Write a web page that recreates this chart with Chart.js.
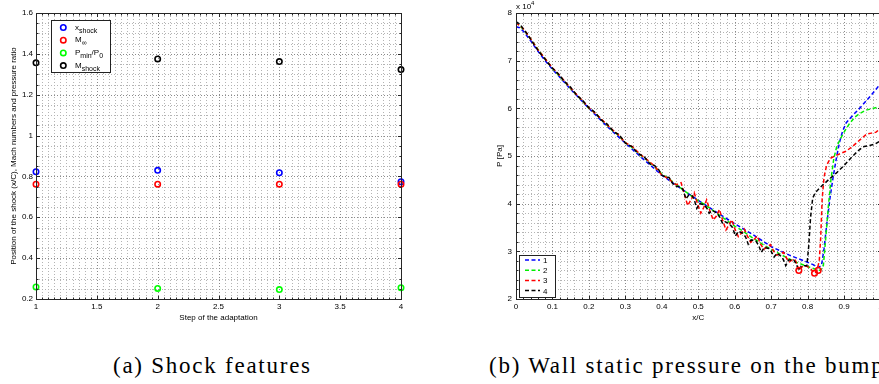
<!DOCTYPE html>
<html>
<head>
<meta charset="utf-8">
<title>Shock features and wall static pressure</title>
<script src="https://cdn.jsdelivr.net/npm/chart.js@4.4.1/dist/chart.umd.min.js"></script>
<style>
  html, body { margin: 0; padding: 0; background: #fff; width: 879px; height: 384px; overflow: hidden; position: relative; }
  #wa { position: absolute; left: 0; top: 0; width: 440px; height: 330px; }
  #wb { position: absolute; left: 440px; top: 0; width: 490px; height: 330px; }
  .cap { position: absolute; top: 354px; font-family: "Liberation Serif", "DejaVu Serif", serif; font-size: 23px;
         line-height: 23px; letter-spacing: 1.75px; white-space: nowrap; color: #000; }
</style>
</head>
<body>
<div id="wa"><canvas id="ca" width="440" height="330"></canvas></div>
<div id="wb"><canvas id="cb" width="490" height="330"></canvas></div>
<div class="cap" style="left:113px">(a) Shock features</div>
<div class="cap" style="left:489px">(b) Wall static pressure on the bump</div>

<script>
// ---------- (a) shock features for each adaptation step ----------
const steps     = [1, 2, 3, 4];
const xShock    = [0.823, 0.830, 0.818, 0.774];   // shock position x/C
const machInf   = [0.762, 0.762, 0.762, 0.762];   // free-stream Mach
const pRatio    = [0.259, 0.252, 0.246, 0.255];   // Pmin / P0
const machShock = [1.356, 1.375, 1.362, 1.323];   // Mach ahead of the shock

const stepTicks  = [1, 1.5, 2, 2.5, 3, 3.5, 4];
const ratioTicks = [0.2, 0.4, 0.6, 0.8, 1, 1.2, 1.4, 1.6];

// ---------- (b) wall static pressure along the bump, in units of 1e4 Pa ----------
const xcTicks = [0, 0.1, 0.2, 0.3, 0.4, 0.5, 0.6, 0.7, 0.8, 0.9, 1];
const pTicks  = [2, 3, 4, 5, 6, 7, 8];

const xc1 = [0, 0.01, 0.02, 0.04, 0.06, 0.08, 0.10, 0.15, 0.20, 0.25, 0.30, 0.35, 0.40, 0.45, 0.50,
             0.55, 0.60, 0.65, 0.70, 0.75, 0.80, 0.815, 0.828, 0.838, 0.845, 0.853, 0.862, 0.871,
             0.880, 0.888, 0.896, 0.906, 0.918, 0.930, 0.945, 0.960, 0.975, 0.990, 1.0];
const p1  = [7.71, 7.69, 7.62, 7.42, 7.20, 7.00, 6.82, 6.40, 6.00, 5.62, 5.27, 4.93, 4.60, 4.33, 4.07,
             3.82, 3.58, 3.35, 3.10, 2.92, 2.77, 2.72, 2.66, 2.70, 3.05, 3.60, 4.15, 4.60,
             5.00, 5.30, 5.52, 5.70, 5.80, 5.90, 6.02, 6.15, 6.28, 6.42, 6.52];

const xc2 = [0, 0.02, 0.04, 0.06, 0.08, 0.10, 0.12, 0.14, 0.16, 0.18, 0.20, 0.22, 0.24, 0.26, 0.28,
             0.30, 0.32, 0.34, 0.36, 0.38, 0.40, 0.42, 0.44, 0.46, 0.48, 0.50, 0.52, 0.54, 0.56,
             0.58, 0.60, 0.62, 0.64, 0.66, 0.68, 0.70, 0.72, 0.74, 0.76, 0.78, 0.80, 0.82, 0.835,
             0.843, 0.850, 0.857, 0.864, 0.872, 0.880, 0.890, 0.900, 0.915, 0.930, 0.945, 0.960,
             0.975, 0.990, 1.0];
const p2  = [7.81, 7.66, 7.46, 7.24, 7.04, 6.84, 6.67, 6.50, 6.33, 6.17, 6.00, 5.88, 5.72, 5.57, 5.44,
             5.28, 5.17, 5.03, 4.91, 4.78, 4.62, 4.52, 4.40, 4.28, 4.17, 4.06, 3.97, 3.86, 3.75,
             3.64, 3.53, 3.44, 3.33, 3.23, 3.13, 3.04, 2.96, 2.88, 2.80, 2.74, 2.68, 2.63, 2.60,
             2.68, 3.30, 3.95, 4.50, 4.95, 5.20, 5.36, 5.50, 5.68, 5.82, 5.90, 5.96,
             5.99, 6.02, 6.03];

const xc3 = [0, 0.02, 0.04, 0.06, 0.08, 0.10, 0.12, 0.14, 0.16, 0.18, 0.20, 0.22, 0.24, 0.26, 0.28,
             0.30, 0.32, 0.34, 0.36, 0.38, 0.40, 0.42, 0.43, 0.44, 0.453, 0.462, 0.471, 0.480, 0.489,
             0.498, 0.507, 0.515, 0.523, 0.532, 0.541, 0.550, 0.558, 0.567, 0.576, 0.584, 0.592,
             0.601, 0.610, 0.618, 0.626, 0.635, 0.644, 0.653, 0.662, 0.671, 0.680, 0.689, 0.698,
             0.707, 0.716, 0.725, 0.734, 0.742, 0.750, 0.758, 0.766, 0.772, 0.776, 0.782, 0.790,
             0.800, 0.810, 0.818, 0.825, 0.832, 0.836, 0.840, 0.845, 0.852, 0.862, 0.875, 0.890,
             0.905, 0.920, 0.935, 0.950, 0.962, 0.975, 0.988, 1.0];
const p3  = [7.80, 7.67, 7.46, 7.23, 7.04, 6.85, 6.69, 6.51, 6.34, 6.18, 6.01, 5.88, 5.73, 5.58, 5.45,
             5.28, 5.19, 5.04, 4.92, 4.79, 4.60, 4.52, 4.44, 4.40, 4.44, 4.20, 3.96, 4.08, 4.23,
             4.00, 3.80, 3.92, 4.08, 3.85, 3.66, 3.74, 3.88, 3.65, 3.45, 3.55, 3.66,
             3.46, 3.31, 3.38, 3.47, 3.32, 3.19, 3.25, 3.32, 3.15, 3.04, 3.10, 3.14,
             3.00, 2.92, 2.95, 2.98, 2.86, 2.78, 2.82, 2.82, 2.70, 2.60, 2.66, 2.70,
             2.68, 2.62, 2.54, 2.58, 2.80, 3.30, 4.10, 4.55, 4.80, 4.95, 5.00, 5.05,
             5.10, 5.18, 5.28, 5.38, 5.46, 5.48, 5.50, 5.58];

const xc4 = [0, 0.01, 0.02, 0.03, 0.04, 0.05, 0.06, 0.07, 0.08, 0.09, 0.10, 0.11, 0.12, 0.13, 0.14,
             0.15, 0.16, 0.17, 0.18, 0.19, 0.20, 0.21, 0.22, 0.23, 0.24, 0.25, 0.26, 0.27, 0.28,
             0.29, 0.30, 0.31, 0.32, 0.33, 0.34, 0.35, 0.36, 0.37, 0.38, 0.39, 0.40, 0.41, 0.42,
             0.43, 0.44, 0.45, 0.458, 0.466, 0.474, 0.484, 0.490, 0.496, 0.504, 0.516, 0.524, 0.530,
             0.538, 0.552, 0.560, 0.567, 0.574, 0.585, 0.594, 0.602, 0.610, 0.622, 0.630, 0.637,
             0.645, 0.658, 0.666, 0.673, 0.681, 0.694, 0.700, 0.708, 0.716, 0.730, 0.735, 0.740,
             0.748, 0.762, 0.770, 0.775, 0.782, 0.792, 0.798, 0.803, 0.808, 0.814, 0.822, 0.840,
             0.860, 0.880, 0.900, 0.920, 0.940, 0.955, 0.970, 0.985, 1.0];
const p4  = [7.82, 7.77, 7.67, 7.57, 7.45, 7.33, 7.22, 7.12, 7.03, 6.93, 6.84, 6.77, 6.69, 6.59, 6.51,
             6.44, 6.34, 6.25, 6.19, 6.10, 6.01, 5.96, 5.89, 5.78, 5.72, 5.67, 5.58, 5.50, 5.46,
             5.38, 5.27, 5.23, 5.19, 5.09, 5.03, 5.00, 4.91, 4.81, 4.80, 4.73, 4.60, 4.56, 4.55,
             4.42, 4.36, 4.36, 4.30, 4.10, 4.18, 4.16, 4.06, 3.90, 4.00, 3.98, 3.90, 3.80,
             3.86, 3.80, 3.70, 3.58, 3.62, 3.58, 3.50, 3.32, 3.42, 3.38, 3.30, 3.15,
             3.24, 3.22, 3.12, 2.98, 3.08, 3.06, 3.00, 2.88, 2.96, 2.88, 2.80, 2.70,
             2.82, 2.82, 2.72, 2.60, 2.68, 2.70, 2.70, 3.10, 3.70, 4.12, 4.24, 4.38,
             4.52, 4.65, 4.80, 4.97, 5.12, 5.20, 5.22, 5.25, 5.32];

// circle marks on series 3 near the shock foot
const xcMark = [0.776, 0.819, 0.829];
const pMark  = [2.60, 2.54, 2.60];

// ---------- shared styling ----------
const SANS = '"Liberation Sans", Arial, Helvetica, sans-serif';
Chart.defaults.font.family = SANS;
Chart.defaults.font.size = 8;
Chart.defaults.color = '#000';
Chart.defaults.animation = false;

function range(min, max, step) {
  const n = Math.round((max - min) / step), out = [];
  for (let i = 0; i <= n; i++) out.push(+(min + i * step).toFixed(6));
  return out;
}
const fmt = v => String(+Number(v).toFixed(3));
const useTicks = values => scale => { scale.ticks = values.map(v => ({ value: v })); };
const pairs = (xs, ys) => xs.map((x, i) => ({ x, y: ys[i] }));

// split "M_{shock}" style labels into plain / subscript / superscript runs
function runs(label) {
  const out = [], re = /_\{([^}]*)\}|\^\{([^}]*)\}|[^_^]+/g;
  let m;
  while ((m = re.exec(label))) {
    if (m[1] !== undefined) out.push([m[1], 'sub']);
    else if (m[2] !== undefined) out.push([m[2], 'sup']);
    else out.push([m[0], '']);
  }
  return out;
}
function drawRuns(ctx, label, x, y) {
  for (const [t, kind] of runs(label)) {
    if (kind === 'sub') { ctx.font = '7px ' + SANS; ctx.fillText(t, x, y + 3); }
    else if (kind === 'sup') { ctx.font = '6px ' + SANS; ctx.fillText(t, x, y - 3.5); }
    else { ctx.font = '8px ' + SANS; ctx.fillText(t, x, y); }
    x += ctx.measureText(t).width;
  }
}

// dotted major/minor grid, inward ticks on all four sides and a closed box
const matlabAxes = {
  id: 'matlabAxes',
  beforeDatasetsDraw(chart, args, o) {
    const { ctx, chartArea: a } = chart, xs = chart.scales.x, ys = chart.scales.y;
    ctx.save();
    ctx.lineWidth = 1;
    ctx.setLineDash([1, 2]);
    const v = (val, c) => { const p = Math.round(xs.getPixelForValue(val)) + 0.5;
      ctx.strokeStyle = c; ctx.beginPath(); ctx.moveTo(p, a.top); ctx.lineTo(p, a.bottom); ctx.stroke(); };
    const h = (val, c) => { const p = Math.round(ys.getPixelForValue(val)) + 0.5;
      ctx.strokeStyle = c; ctx.beginPath(); ctx.moveTo(a.left, p); ctx.lineTo(a.right, p); ctx.stroke(); };
    range(o.xMinor[0], o.xMinor[1], o.xMinor[2]).forEach(val => v(val, o.minorColor));
    range(o.yMinor[0], o.yMinor[1], o.yMinor[2]).forEach(val => h(val, o.minorColor));
    xs.ticks.forEach(t => v(t.value, o.majorColor));
    ys.ticks.forEach(t => h(t.value, o.majorColor));
    ctx.restore();
  },
  afterDatasetsDraw(chart, args, o) {
    const { ctx, chartArea: a } = chart, xs = chart.scales.x, ys = chart.scales.y;
    const L = Math.round(a.left) + 0.5, R = Math.round(a.right) + 0.5;
    const T = Math.round(a.top) + 0.5, B = Math.round(a.bottom) + 0.5;
    ctx.save();
    ctx.strokeStyle = o.boxColor;
    ctx.lineWidth = 1;
    ctx.beginPath();
    const xt = (val, len) => { const p = Math.round(xs.getPixelForValue(val)) + 0.5;
      ctx.moveTo(p, B); ctx.lineTo(p, B - len); ctx.moveTo(p, T); ctx.lineTo(p, T + len); };
    const yt = (val, len) => { const p = Math.round(ys.getPixelForValue(val)) + 0.5;
      ctx.moveTo(L, p); ctx.lineTo(L + len, p); ctx.moveTo(R, p); ctx.lineTo(R - len, p); };
    range(o.xMinor[0], o.xMinor[1], o.xMinor[2]).forEach(val => xt(val, 2));
    range(o.yMinor[0], o.yMinor[1], o.yMinor[2]).forEach(val => yt(val, 2));
    xs.ticks.forEach(t => xt(t.value, 3.5));
    ys.ticks.forEach(t => yt(t.value, 3.5));
    ctx.stroke();
    ctx.strokeRect(L, T, R - L, B - T);
    if (o.exponent) {
      ctx.fillStyle = '#000';
      ctx.textBaseline = 'alphabetic';
      drawRuns(ctx, o.exponent, Math.round(a.left), 8.5);
    }
    ctx.restore();
  }
};

// boxed legend with circle or dashed-line samples
const boxLegend = {
  id: 'boxLegend',
  afterDraw(chart, args, o) {
    const ctx = chart.ctx, b = o.box;
    ctx.save();
    ctx.fillStyle = '#fff';
    ctx.fillRect(b[0], b[1], b[2], b[3]);
    ctx.strokeStyle = '#222';
    ctx.lineWidth = 1;
    ctx.strokeRect(b[0] + 0.5, b[1] + 0.5, b[2], b[3]);
    chart.data.datasets.filter(d => d.inLegend).forEach((d, i) => {
      const y = o.firstRow + i * o.rowStep;
      ctx.strokeStyle = d.borderColor;
      if (o.kind === 'circle') {
        ctx.lineWidth = 1.6;
        ctx.setLineDash([]);
        ctx.beginPath(); ctx.arc(o.sampleX, y, 2.7, 0, Math.PI * 2); ctx.stroke();
      } else {
        ctx.lineWidth = 1.5;
        ctx.setLineDash(d.borderDash);
        ctx.beginPath(); ctx.moveTo(o.sampleX, y); ctx.lineTo(o.sampleX + o.sampleW, y); ctx.stroke();
      }
      ctx.setLineDash([]);
      ctx.fillStyle = '#000';
      ctx.textBaseline = 'alphabetic';
      drawRuns(ctx, d.label, o.textX, y + o.textDy);
    });
    ctx.restore();
  }
};

// ---------- chart (a) ----------
const seriesA = [
  { label: 'x_{shock}',   values: xShock,    color: '#0000ff' },
  { label: 'M_{\u221e}',  values: machInf,   color: '#ff0000' },
  { label: 'P_{min}/P_{0}', values: pRatio,  color: '#00ff00' },
  { label: 'M_{shock}',   values: machShock, color: '#000000' }
];

new Chart(document.getElementById('ca'), {
  type: 'scatter',
  data: {
    datasets: seriesA.map((s, i) => ({
      label: s.label, inLegend: true,
      data: pairs(steps, s.values),
      borderColor: s.color, backgroundColor: 'rgba(0,0,0,0)',
      pointRadius: 2.7, pointHoverRadius: 2.7, pointBorderWidth: 1.6,
      order: seriesA.length - i, clip: false
    }))
  },
  options: {
    responsive: false, events: [],
    layout: { padding: { left: 0, top: 13, right: 39, bottom: 0 } },
    plugins: {
      legend: { display: false }, tooltip: { enabled: false },
      matlabAxes: { xMinor: [1, 4, 0.05], yMinor: [0.2, 1.6, 0.05],
                    minorColor: '#b4b4b4', majorColor: '#8a8a8a', boxColor: '#262626' },
      boxLegend: { kind: 'circle', box: [51, 20, 59, 52], firstRow: 27.5, rowStep: 12.7,
                   sampleX: 63.3, textX: 75, textDy: 2 }
    },
    scales: {
      x: {
        type: 'linear', min: 1, max: 4,
        afterBuildTicks: useTicks(stepTicks),
        afterFit: s => { s.height = 31; },
        grid: { display: false, drawTicks: false }, border: { display: false },
        ticks: { autoSkip: false, maxRotation: 0, padding: 3, callback: fmt },
        title: { display: true, text: 'Step of the adaptation', padding: { top: 0, bottom: 7 } }
      },
      y: {
        type: 'linear', min: 0.2, max: 1.6,
        afterBuildTicks: useTicks(ratioTicks),
        afterFit: s => { s.width = 36; },
        grid: { display: false, drawTicks: false }, border: { display: false },
        ticks: { autoSkip: false, padding: 3, callback: fmt },
        title: { display: true, text: 'Position of the shock (x/C), Mach numbers and pressure ratio',
                 padding: { top: 9, bottom: 0 } }
      }
    }
  },
  plugins: [matlabAxes, boxLegend]
});

// ---------- chart (b) ----------
const seriesB = [
  { label: '1', xs: xc1, ps: p1, color: '#0000ff' },
  { label: '2', xs: xc2, ps: p2, color: '#00ee00' },
  { label: '3', xs: xc3, ps: p3, color: '#ff0000' },
  { label: '4', xs: xc4, ps: p4, color: '#000000' }
];
const dsB = seriesB.map((s, i) => ({
  label: s.label, inLegend: true,
  data: pairs(s.xs, s.ps),
  showLine: true, borderColor: s.color, borderWidth: 1.5, borderDash: [4, 2.5],
  pointRadius: 0, pointHoverRadius: 0, tension: 0,
  order: seriesB.length - i + 1
}));
dsB.push({
  label: 'shock', inLegend: false,
  data: pairs(xcMark, pMark),
  borderColor: '#ff0000', backgroundColor: 'rgba(0,0,0,0)',
  pointRadius: 2.8, pointHoverRadius: 2.8, pointBorderWidth: 1.5, order: 0
});

new Chart(document.getElementById('cb'), {
  type: 'scatter',
  data: { datasets: dsB },
  options: {
    responsive: false, events: [],
    layout: { padding: { left: 50, top: 13, right: 49.5, bottom: 0 } },
    plugins: {
      legend: { display: false }, tooltip: { enabled: false },
      matlabAxes: { xMinor: [0, 1, 0.02], yMinor: [2, 8, 0.2],
                    minorColor: '#b4b4b4', majorColor: '#8a8a8a', boxColor: '#262626',
                    exponent: 'x 10^{4}' },
      boxLegend: { kind: 'line', box: [79, 255, 36, 42], firstRow: 260, rowStep: 10.2,
                   sampleX: 85, sampleW: 15, textX: 103, textDy: 3 }
    },
    scales: {
      x: {
        type: 'linear', min: 0, max: 1,
        afterBuildTicks: useTicks(xcTicks),
        afterFit: s => { s.height = 31; },
        grid: { display: false, drawTicks: false }, border: { display: false },
        ticks: { autoSkip: false, maxRotation: 0, padding: 3, callback: fmt },
        title: { display: true, text: 'x/C', padding: { top: 0, bottom: 7 } }
      },
      y: {
        type: 'linear', min: 2, max: 8,
        afterBuildTicks: useTicks(pTicks),
        afterFit: s => { s.width = 26; },
        grid: { display: false, drawTicks: false }, border: { display: false },
        ticks: { autoSkip: false, padding: 4, callback: fmt },
        title: { display: true, text: 'P [Pa]', padding: { top: 5, bottom: 0 } }
      }
    }
  },
  plugins: [matlabAxes, boxLegend]
});
</script>
</body>
</html>
